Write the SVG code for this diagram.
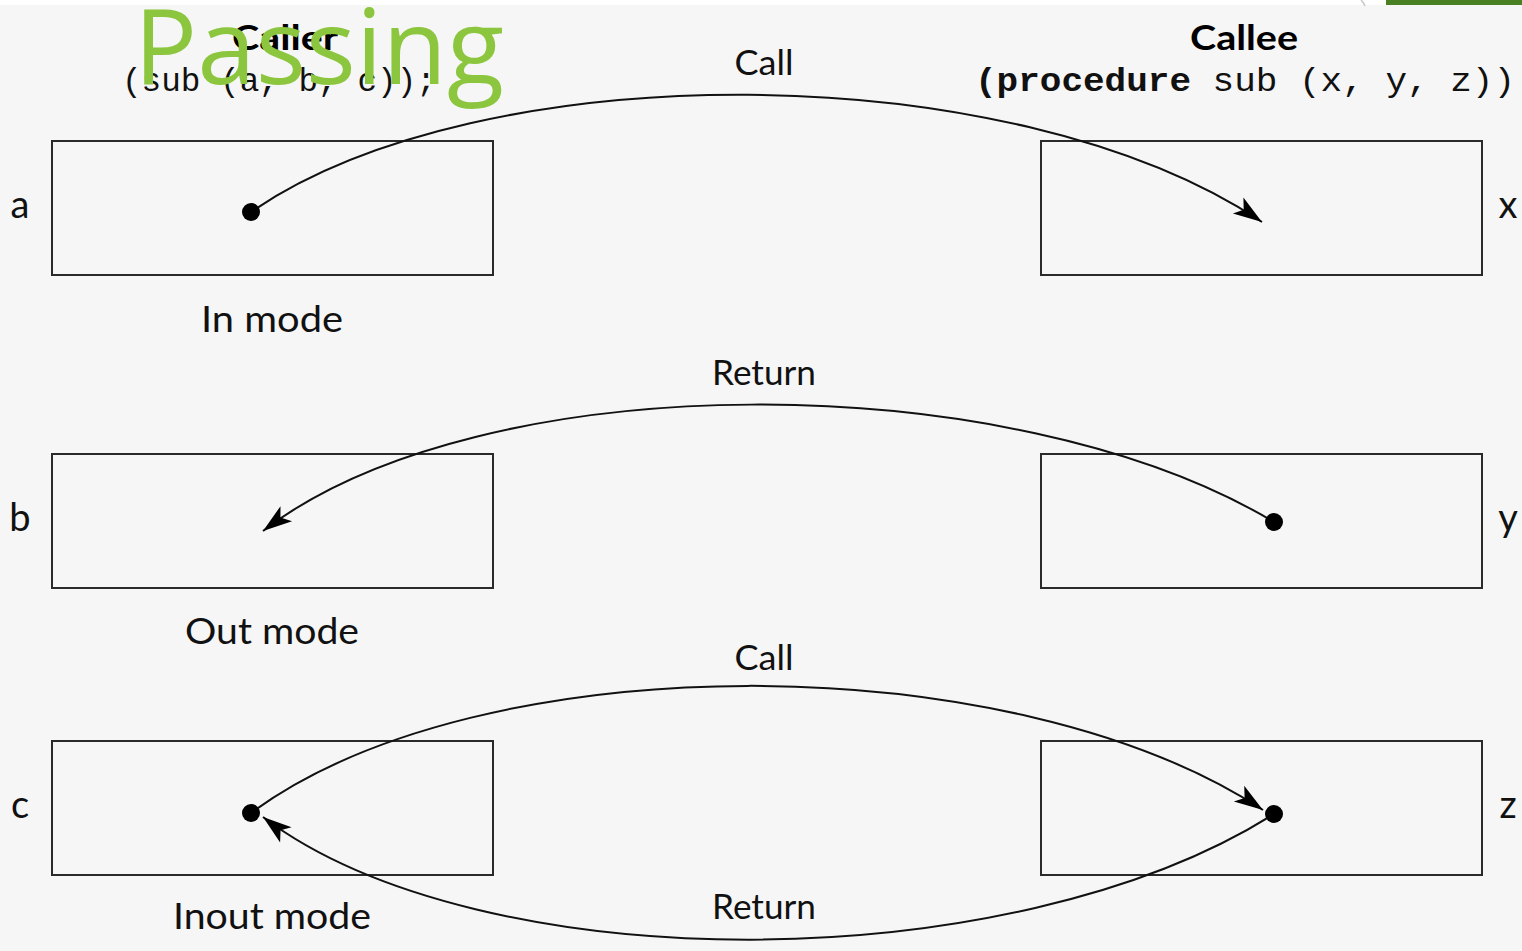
<svg xmlns="http://www.w3.org/2000/svg" width="1522" height="951" viewBox="0 0 1522 951">
<style>
.box{fill:none;stroke:#2a2a2a;stroke-width:2}
.lbl{font-family:Lato,"Liberation Sans",sans-serif;font-size:37px;fill:#111;text-anchor:middle}
.var{font-family:Lato,"Liberation Sans",sans-serif;font-size:38px;fill:#111;text-anchor:middle}
.edge{font-family:Lato,"Liberation Sans",sans-serif;font-size:35px;fill:#111;text-anchor:middle}
.title{font-family:Lato,"Liberation Sans",sans-serif;font-size:34px;font-weight:bold;fill:#000;text-anchor:middle}
.mono{font-family:"Liberation Mono","Courier New",monospace;font-size:33px;fill:#111}
.conn{fill:none;stroke:#111;stroke-width:2}
.dot{fill:#000}
</style>
<defs>
<marker id="arr" markerUnits="userSpaceOnUse" orient="auto" refX="0" refY="0" markerWidth="40" markerHeight="30" viewBox="-32 -15 40 30" overflow="visible">
<path d="M0,0 L-29,-10 L-22,0 L-29,9 Z" fill="#000"/>
</marker>
</defs>
<rect x="0" y="0" width="1522" height="951" fill="#f6f6f6"/>
<rect x="0" y="0" width="1522" height="5" fill="#ffffff"/>
<rect x="1386" y="0" width="136" height="5" fill="#4a8024"/>
<path d="M1361,0 Q1364,3 1365,6" fill="none" stroke="#c8c8c8" stroke-width="1.5"/>

<g id="caller-header">
<text class="title" x="285" y="50" textLength="106" lengthAdjust="spacingAndGlyphs">Caller</text>
<text class="mono" x="122" y="91" textLength="314" lengthAdjust="spacingAndGlyphs">(sub (a, b, c));</text>
</g>
<g id="callee-header">
<text class="title" x="1244" y="50" textLength="108" lengthAdjust="spacingAndGlyphs">Callee</text>
<text class="mono" x="975" y="91" textLength="540" lengthAdjust="spacingAndGlyphs"><tspan font-weight="bold">(procedure</tspan> sub (x, y, z))</text>
</g>
<text x="134" y="84" font-family="'Open Sans','Noto Sans',sans-serif" font-size="105" fill="#8cc63e" textLength="370" lengthAdjust="spacingAndGlyphs">Passing</text>

<g id="node-a">
<rect class="box" x="52" y="141" width="441" height="134"/>
<text class="var" x="20" y="218">a</text>
</g>
<g id="node-x">
<rect class="box" x="1041" y="141" width="441" height="134"/>
<text class="var" x="1508" y="218">x</text>
</g>
<text class="lbl" x="272" y="332" textLength="142" lengthAdjust="spacingAndGlyphs">In mode</text>

<g id="node-b">
<rect class="box" x="52" y="454" width="441" height="134"/>
<text class="var" x="20" y="531">b</text>
</g>
<g id="node-y">
<rect class="box" x="1041" y="454" width="441" height="134"/>
<text class="var" x="1508" y="531">y</text>
</g>
<text class="lbl" x="272" y="644" textLength="174" lengthAdjust="spacingAndGlyphs">Out mode</text>

<g id="node-c">
<rect class="box" x="52" y="741" width="441" height="134"/>
<text class="var" x="20" y="818">c</text>
</g>
<g id="node-z">
<rect class="box" x="1041" y="741" width="441" height="134"/>
<text class="var" x="1508" y="818">z</text>
</g>
<text class="lbl" x="272" y="929" textLength="198" lengthAdjust="spacingAndGlyphs">Inout mode</text>

<g id="connectors">
<path class="conn" d="M251,212 C480,54 1010,54 1262,222" marker-end="url(#arr)"/>
<text class="edge" x="764" y="75" textLength="59" lengthAdjust="spacingAndGlyphs">Call</text>
<path class="conn" d="M1274,522 C1010,364 480,364 263,531" marker-end="url(#arr)"/>
<text class="edge" x="764" y="385" textLength="104" lengthAdjust="spacingAndGlyphs">Return</text>
<path class="conn" d="M251,813 C480,644 1010,644 1263,810" marker-end="url(#arr)"/>
<text class="edge" x="764" y="670" textLength="59" lengthAdjust="spacingAndGlyphs">Call</text>
<path class="conn" d="M1274,814 C1010,981 480,981 263,817" marker-end="url(#arr)"/>
<text class="edge" x="764" y="919" textLength="104" lengthAdjust="spacingAndGlyphs">Return</text>
<circle class="dot" cx="251" cy="212" r="9"/>
<circle class="dot" cx="1274" cy="522" r="9"/>
<circle class="dot" cx="251" cy="813" r="9"/>
<circle class="dot" cx="1274" cy="814" r="9"/>
</g>
</svg>
